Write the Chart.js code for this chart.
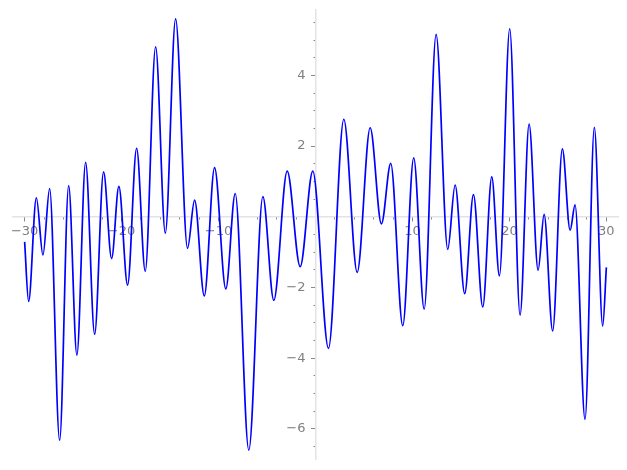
<!DOCTYPE html>
<html>
<head>
<meta charset="utf-8">
<script src="https://cdn.jsdelivr.net/npm/chart.js@4/dist/chart.umd.min.js"></script>
<style>
  html, body { margin: 0; padding: 0; background: #ffffff; }
  #c { display: block; }
</style>
</head>
<body>
<canvas id="c" width="627" height="470"></canvas>
<script>
// Curve samples (x, y): start, local extrema, end
const xValues = [
  -30.00, -29.59, -28.79, -28.11, -27.42, -26.39, -25.46, -24.61, -23.71, -22.78,
  -21.86, -21.03, -20.28, -19.38, -18.45, -17.56, -16.49, -15.49, -14.43, -13.20,
  -12.47, -11.47, -10.41, -9.25, -8.28, -6.88, -5.43, -4.30, -2.92, -1.58,
  -0.28, 1.34, 2.92, 4.30, 5.64, 6.80, 7.76, 9.00, 10.13, 11.21,
  12.44, 13.64, 14.40, 15.39, 16.29, 17.25, 18.18, 18.97, 20.03, 21.10,
  22.03, 22.96, 23.58, 24.46, 25.46, 26.26, 26.77, 27.80, 28.76, 29.62,
  30.00
];
const yValues = [
  -0.71, -2.39, 0.54, -1.08, 0.80, -6.32, 0.88, -3.91, 1.54, -3.32,
  1.27, -1.18, 0.86, -1.93, 1.94, -1.54, 4.81, -0.46, 5.60, -0.89,
  0.47, -2.24, 1.39, -2.04, 0.66, -6.60, 0.57, -2.36, 1.29, -1.41,
  1.29, -3.72, 2.76, -1.57, 2.52, -0.20, 1.51, -3.08, 1.67, -2.61,
  5.16, -0.92, 0.90, -2.17, 0.63, -2.55, 1.13, -1.67, 5.32, -2.78,
  2.62, -1.51, 0.07, -3.23, 1.92, -0.38, 0.34, -5.73, 2.53, -3.09,
  -1.43
];
// Axis ranges and tick steps
const xRange = [-31.2, 31.2];
const yRange = [-6.85, 5.85];
const xMajorStep = 10, xMinorStep = 2;
const yMajorStep = 2, yMinorStep = 0.5;

const points = xValues.map((x, i) => ({ x: x, y: yValues[i] }));

const AXIS_GRAY = '#e3e3e3';
const TICK_GRAY = '#888888';
const LABEL_GRAY = '#808080';

function fmt(v) {
  if (Math.abs(v) < 1e-9) return '';
  const r = Math.round(v);
  return r < 0 ? '\u2212' + Math.abs(r) : String(r);
}
function noPad(s) { s.paddingTop = 0; s.paddingBottom = 0; s.paddingLeft = 0; s.paddingRight = 0; }
const zeroW = s => { s.width = 0; noPad(s); };
const zeroH = s => { s.height = 0; noPad(s); };

new Chart(document.getElementById('c'), {
  type: 'line',
  data: {
    datasets: [{
      data: points,
      borderColor: '#0000ff',
      borderWidth: 1.7,
      pointRadius: 0,
      fill: false,
      cubicInterpolationMode: 'monotone',
      xAxisID: 'x',
      yAxisID: 'y'
    }]
  },
  options: {
    responsive: false,
    animation: false,
    devicePixelRatio: 1,
    layout: { padding: { left: 13, right: 9, top: 10, bottom: 11 } },
    plugins: { legend: { display: false }, tooltip: { enabled: false } },
    scales: {
      x2: {
        type: 'linear', min: xRange[0], max: xRange[1],
        position: { y: 0 }, afterFit: zeroH,
        border: { display: false },
        grid: { drawOnChartArea: false, drawTicks: true, tickLength: 2.5, tickColor: TICK_GRAY, tickWidth: 1 },
        ticks: { stepSize: xMinorStep, includeBounds: false, callback: () => '', font: { size: 1 }, padding: 0 }
      },
      y2: {
        type: 'linear', min: yRange[0], max: yRange[1],
        position: { x: 0 }, afterFit: zeroW,
        border: { display: false },
        grid: { drawOnChartArea: false, drawTicks: true, tickLength: 2.5, tickColor: TICK_GRAY, tickWidth: 1 },
        ticks: { stepSize: yMinorStep, includeBounds: false, callback: () => '', font: { size: 1 }, padding: 0 }
      },
      yl: {
        type: 'linear', min: yRange[0], max: yRange[1],
        position: { x: -1.03 }, afterFit: zeroW,
        border: { display: false },
        grid: { display: true, drawOnChartArea: false, drawTicks: false },
        ticks: {
          stepSize: yMajorStep, includeBounds: false, autoSkip: false,
          callback: v => fmt(v), color: LABEL_GRAY, padding: 0,
          font: { family: 'DejaVu Sans', size: 13 }
        }
      },
      x: {
        type: 'linear', min: xRange[0], max: xRange[1],
        position: { y: 0 }, afterFit: zeroH,
        border: { display: true, color: AXIS_GRAY, width: 1.5 },
        grid: { drawOnChartArea: false, drawTicks: true, tickLength: 4, tickColor: TICK_GRAY, tickWidth: 1 },
        ticks: {
          stepSize: xMajorStep, includeBounds: false, autoSkip: false, maxRotation: 0,
          callback: v => fmt(v), color: LABEL_GRAY, padding: 3,
          font: { family: 'DejaVu Sans', size: 13 }
        }
      },
      y: {
        type: 'linear', min: yRange[0], max: yRange[1],
        position: { x: 0 }, afterFit: zeroW,
        border: { display: true, color: AXIS_GRAY, width: 1.5 },
        grid: { drawOnChartArea: false, drawTicks: true, tickLength: 4, tickColor: TICK_GRAY, tickWidth: 1 },
        ticks: { stepSize: yMajorStep, includeBounds: false, autoSkip: false, callback: () => '', font: { size: 1 }, padding: 0 }
      }
    }
  }
});
</script>
</body>
</html>
